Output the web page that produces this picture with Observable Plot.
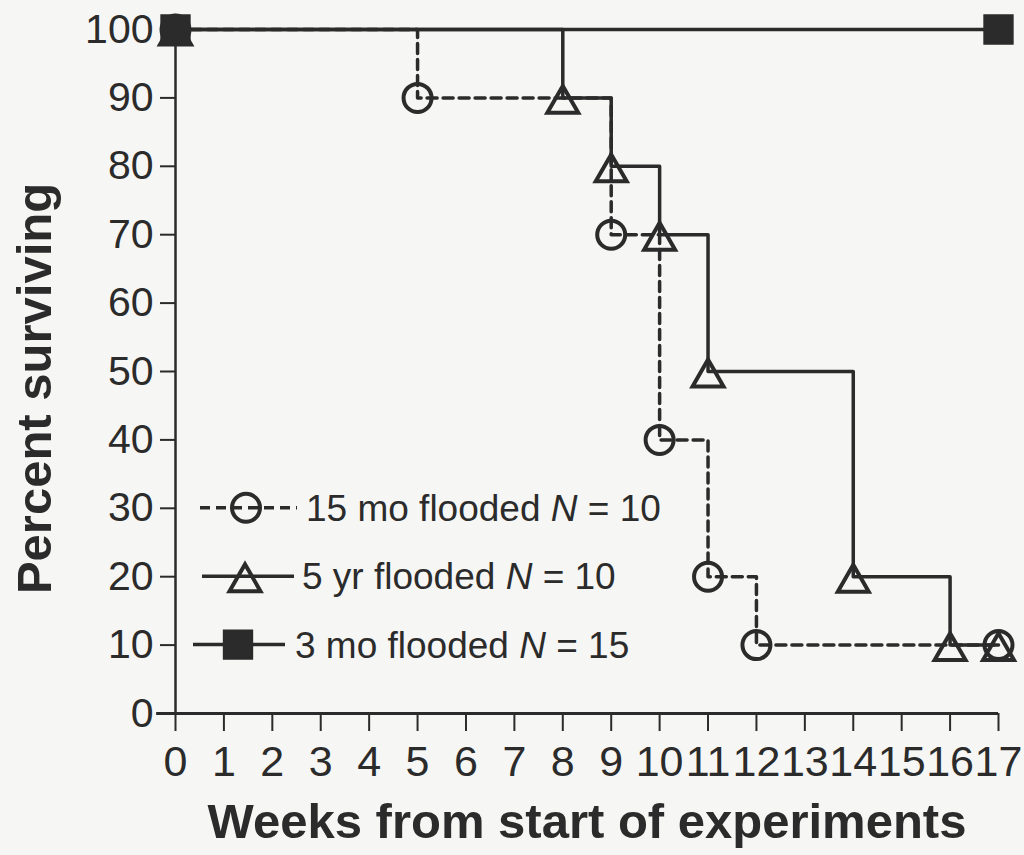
<!DOCTYPE html>
<html><head><meta charset="utf-8">
<script src="https://cdn.jsdelivr.net/npm/d3@7"></script>
<script src="https://cdn.jsdelivr.net/npm/@observablehq/plot@0.6"></script>
<style>
html,body{margin:0;padding:0;background:#f6f6f4;}
#chart{width:1024px;height:855px;}
</style></head><body><div id="chart"></div>
<script>
// ---- data ----
const weeks15mo = [0, 5, 9, 10, 11, 12, 17];
const pct15mo   = [100, 90, 70, 40, 20, 10, 10];
const weeks5yr  = [0, 8, 9, 10, 11, 14, 16, 17];
const pct5yr    = [100, 90, 80, 70, 50, 20, 10, 10];
const weeks3mo  = [0, 17];
const pct3mo    = [100, 100];
const seriesNames = ["15 mo flooded", "5 yr flooded", "3 mo flooded"];
const seriesN     = [10, 10, 15];
const legendLevels = [30, 20, 10];
const xTicks = [0, 1, 2, 3, 4, 5, 6, 7, 8, 9, 10, 11, 12, 13, 14, 15, 16, 17];
const yTicks = [0, 10, 20, 30, 40, 50, 60, 70, 80, 90, 100];
const xTitle = "Weeks from start of experiments";
const yTitle = "Percent surviving";

// ---- build ----
const rows = (xs, ys) => xs.map((x, i) => ({x, y: ys[i]}));
const s15 = rows(weeks15mo, pct15mo);
const s5 = rows(weeks5yr, pct5yr);
const s3 = rows(weeks3mo, pct3mo);
const ink = "#2b2b2b";
const font = "'Liberation Sans', Arial, Helvetica, sans-serif";

const plot = Plot.plot({
  width: 1024, height: 855,
  marginLeft: 175, marginRight: 26, marginTop: 29, marginBottom: 142,
  x: {domain: [0, 17]},
  y: {domain: [0, 100]},
  style: {background: "transparent", fontFamily: font, color: ink, overflow: "visible"},
  marks: [
    Plot.axisY({ticks: yTicks, tickSize: 15, tickPadding: 7, fontSize: 41, label: null, stroke: ink, strokeWidth: 2, fill: ink}),
    Plot.axisX({ticks: xTicks, tickSize: 18, tickPadding: 14, fontSize: 43, label: null, stroke: ink, strokeWidth: 2, fill: ink}),
    Plot.ruleX([0], {stroke: ink, strokeWidth: 2.5}),
    Plot.ruleY([0], {x1: -0.39, x2: 17, stroke: ink, strokeWidth: 3}),
    Plot.line(s15, {x: "x", y: "y", curve: "step-after", stroke: ink, strokeWidth: 3.5, strokeDasharray: "10,6"}),
    Plot.line(s5, {x: "x", y: "y", curve: "step-after", stroke: ink, strokeWidth: 3.5}),
    Plot.line(s3, {x: "x", y: "y", stroke: ink, strokeWidth: 3.5}),
    Plot.dot(s15, {x: "x", y: "y", symbol: "circle", r: 14, stroke: ink, strokeWidth: 4, fill: "none"}),
    Plot.dot(s5, {x: "x", y: "y", symbol: "triangle", r: 11.5, dy: 6, stroke: ink, strokeWidth: 4, fill: "none"}),
    Plot.dot(s3, {x: "x", y: "y", symbol: "square", r: 16, fill: ink, stroke: ink, strokeWidth: 2}),
    Plot.text([xTitle], {frameAnchor: "bottom", dy: 124, fontSize: 49, fontWeight: "bold", fill: ink, textAnchor: "middle"}),
    Plot.text([yTitle], {frameAnchor: "left", dx: -140, dy: 17, rotate: -90, fontSize: 49, fontWeight: "bold", fill: ink, textAnchor: "middle"})
  ]
});

// ---- legend (inside plot, lower left) ----
const svg = d3.select(plot);
const yS = plot.scale("y");
const g = svg.append("g").attr("font-family", font).attr("fill", ink);
const symbols = [
  {type: d3.symbolCircle, r: 14, fill: "none", dash: "10,6", x0: 200, x1: 297, cx: 246, tx: 306, dy: 0},
  {type: d3.symbolTriangle, r: 11.5, fill: "none", dash: null, x0: 202, x1: 294, cx: 245, tx: 302, dy: 6},
  {type: d3.symbolSquare, r: 16, fill: ink, dash: null, x0: 193, x1: 285, cx: 238, tx: 295, dy: 0}
];
symbols.forEach((s, i) => {
  const y = yS.apply(legendLevels[i]);
  g.append("line").attr("x1", s.x0).attr("x2", s.x1).attr("y1", y).attr("y2", y)
    .attr("stroke", ink).attr("stroke-width", 3.5).attr("stroke-dasharray", s.dash);
  g.append("path").attr("d", d3.symbol().type(s.type).size(Math.PI * s.r * s.r)())
    .attr("transform", `translate(${s.cx},${y + s.dy})`)
    .attr("fill", s.fill).attr("stroke", ink).attr("stroke-width", s.fill === "none" ? 4 : 2);
  const t = g.append("text").attr("x", s.tx).attr("y", y).attr("dy", "0.35em")
    .attr("font-size", 37).attr("text-anchor", "start");
  t.append("tspan").text(seriesNames[i] + " ");
  t.append("tspan").attr("font-style", "italic").text("N");
  t.append("tspan").text(" = " + seriesN[i]);
});

document.getElementById("chart").append(plot);
</script></body></html>
